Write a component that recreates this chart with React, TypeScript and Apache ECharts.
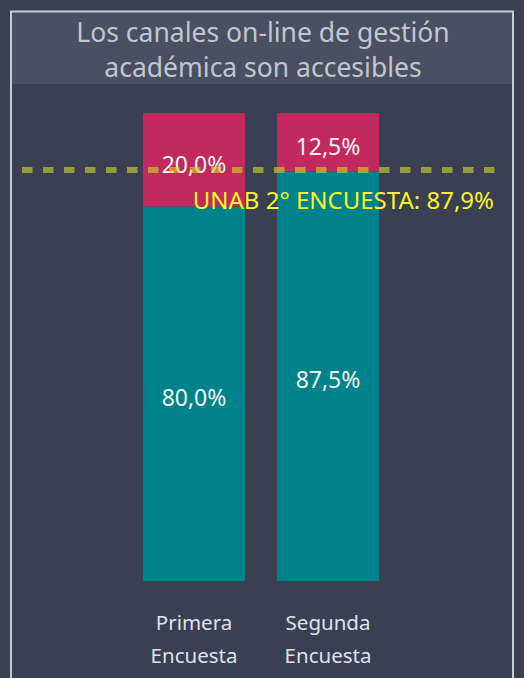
import React, { useEffect, useRef } from "react";
import * as echarts from "echarts";

const categories = ["Primera\nEncuesta", "Segunda\nEncuesta"];
const agreeValues = [80.0, 87.5];
const disagreeValues = [20.0, 12.5];
const benchmarkValue = 87.9;
const benchmarkLabel = "UNAB 2° ENCUESTA";
const titleText = "Los canales on-line de gestión\nacadémica son accesibles";

const fmt = (v: number) => v.toFixed(1).replace(".", ",") + "%";

export default function App() {
  const ref = useRef<HTMLDivElement>(null);
  useEffect(() => {
    if (!ref.current) return;
    const chart = echarts.init(ref.current, null, { renderer: "svg" });
    const font = "'Noto Sans', 'Open Sans', sans-serif";
    chart.setOption({
      animation: false,
      backgroundColor: "#3a3f51",
      textStyle: { fontFamily: font },
      graphic: [
        {
          type: "rect",
          shape: { x: 11, y: 11, width: 501, height: 73 },
          style: { fill: "#4a5062" },
          z: -1,
        },
        {
          type: "polyline",
          shape: { points: [[11, 700], [11, 11.5], [513, 11.5], [513, 700]] },
          style: { stroke: "#c9ccd4", lineWidth: 2, fill: "none" },
        },
        {
          type: "text",
          x: 263,
          y: 49,
          style: {
            text: titleText,
            fill: "#c2c6cd",
            font: `26.5px ${font}`,
            lineHeight: 35,
            align: "center",
            verticalAlign: "middle",
          },
        },
      ],
      grid: [
        { left: 127, width: 268, top: 113, height: 468 },
        { left: 22, width: 473, top: 113, height: 468 },
      ],
      xAxis: [
        {
          type: "category",
          gridIndex: 0,
          data: categories,
          axisLine: { show: false },
          axisTick: { show: false },
          axisLabel: {
            color: "#dde3ec",
            fontSize: 20.5,
            lineHeight: 33,
            margin: 24,
            fontFamily: font,
          },
        },
        { type: "value", gridIndex: 1, min: 0, max: 1, show: false },
      ],
      yAxis: [
        { type: "value", gridIndex: 0, min: 0, max: 100, show: false },
        { type: "value", gridIndex: 1, min: 0, max: 100, show: false },
      ],
      series: [
        {
          type: "bar",
          stack: "s",
          xAxisIndex: 0,
          yAxisIndex: 0,
          barWidth: 102,
          data: agreeValues,
          itemStyle: { color: "#00828a" },
          label: {
            show: true,
            position: "inside",
            formatter: (p: any) => fmt(p.value),
            color: "#f2f2f2",
            fontSize: 23,
            fontFamily: font,
            offset: [0, 3],
          },
        },
        {
          type: "bar",
          stack: "s",
          xAxisIndex: 0,
          yAxisIndex: 0,
          barWidth: 102,
          data: disagreeValues,
          itemStyle: { color: "#c2295e" },
          label: {
            show: true,
            position: "inside",
            formatter: (p: any) => fmt(p.value),
            color: "#f2f2f2",
            fontSize: 23,
            fontFamily: font,
            offset: [0, 4],
          },
        },
        {
          type: "line",
          xAxisIndex: 1,
          yAxisIndex: 1,
          data: [],
          z: 10,
          markLine: {
            silent: true,
            symbol: "none",
            lineStyle: {
              color: "rgba(210,218,40,0.6)",
              width: 6,
              type: [10.5, 10.5],
            },
            label: {
              show: true,
              position: "insideEndBottom",
              formatter: () => `${benchmarkLabel}: ${fmt(benchmarkValue)}`,
              color: "#f6f62a",
              fontSize: 24,
              fontFamily: font,
              distance: [1, 18],
            },
            data: [{ yAxis: benchmarkValue }],
          },
        },
      ],
    });
    return () => chart.dispose();
  }, []);
  return (
    <div
      ref={ref}
      style={{ position: "fixed", left: 0, top: 0, width: 524, height: 678 }}
    />
  );
}
